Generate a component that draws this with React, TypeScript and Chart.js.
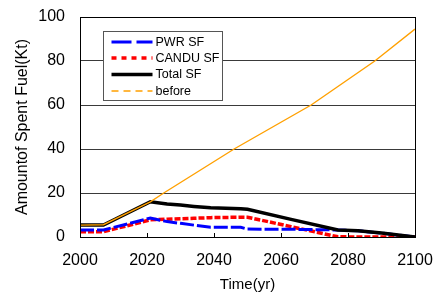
import React, { useEffect, useRef } from "react";
import { Chart, registerables } from "chart.js";

Chart.register(...registerables);

// ---- data ----
const YEARS = [2000, 2007, 2021, 2026, 2030, 2034, 2039, 2048, 2050, 2063, 2077, 2083, 2090, 2100];
const PWR_SF = [3.2, 3.2, 8.6, 7.0, 6.2, 5.4, 4.4, 4.4, 3.6, 3.5, 3.2, 2.8, 1.8, 0];
const CANDU_SF = [2.4, 2.4, 7.8, 8.1, 8.3, 8.5, 8.8, 9.0, 9.0, 4.7, 0.1, 0, 0, 0];
const TOTAL_SF = [5.4, 5.4, 16.0, 15.0, 14.5, 13.9, 13.3, 12.8, 12.6, 8.0, 3.2, 2.8, 1.8, 0];
const BEFORE_YEARS = [2000, 2007, 2021, 2025, 2046, 2069, 2088, 2100];
const BEFORE_SF = [5.4, 5.6, 16.0, 20, 40, 60, 80, 94.5];

const SERIES_LABELS = ["PWR SF", "CANDU SF", "Total SF", "before"];
const X_TITLE = "Time(yr)";
const Y_TITLE = "Amountof Spent Fuel(Kt)";
const X_MIN = 2000;
const X_MAX = 2100;
const X_STEP = 20;
const Y_MIN = 0;
const Y_MAX = 100;
const Y_STEP = 20;

const FONT = "'Liberation Sans', Arial, sans-serif";

const zip = (xs: number[], ys: number[]) => xs.map((x, i) => ({ x, y: ys[i] }));

const LEGEND_ITEMS = [
  { label: SERIES_LABELS[0], color: "#0000ff", width: 3, dash: [20, 5] },
  { label: SERIES_LABELS[1], color: "#ff0000", width: 3.5, dash: [5, 5] },
  { label: SERIES_LABELS[2], color: "#000000", width: 3.5, dash: [] as number[] },
  { label: SERIES_LABELS[3], color: "#ffa000", width: 1.3, dash: [7, 5] },
];

const framePlugin = {
  id: "frameAndLegend",
  afterDatasetsDraw(chart: any) {
    const { ctx, chartArea } = chart;
    const xs = chart.scales.x;
    ctx.save();
    // inner tick marks on x axis
    ctx.strokeStyle = "#000";
    ctx.lineWidth = 1;
    for (let v = X_MIN + X_STEP; v < X_MAX; v += X_STEP) {
      const px = Math.round(xs.getPixelForValue(v)) + 0.5;
      ctx.beginPath();
      ctx.moveTo(px, chartArea.bottom);
      ctx.lineTo(px, chartArea.bottom - 4);
      ctx.stroke();
    }
    // frame
    ctx.strokeStyle = "#000";
    ctx.lineWidth = 1;
    ctx.strokeRect(
      Math.round(chartArea.left) + 0.5,
      Math.round(chartArea.top) + 0.5,
      Math.round(chartArea.right - chartArea.left),
      Math.round(chartArea.bottom - chartArea.top)
    );
    // legend box
    const bx = Math.round(chartArea.left + 23) + 0.5;
    const by = Math.round(chartArea.top + 14) + 0.5;
    const bw = 119;
    const bh = 69;
    ctx.fillStyle = "#fff";
    ctx.fillRect(bx, by, bw, bh);
    ctx.strokeStyle = "#555";
    ctx.lineWidth = 1;
    ctx.strokeRect(bx, by, bw, bh);
    const rowYs = [10.5, 26.5, 43, 59.5];
    ctx.font = `12.5px ${FONT}`;
    ctx.textBaseline = "middle";
    ctx.textAlign = "left";
    LEGEND_ITEMS.forEach((it, i) => {
      const y = by + rowYs[i];
      ctx.beginPath();
      ctx.setLineDash(it.dash);
      ctx.strokeStyle = it.color;
      ctx.lineWidth = it.width;
      ctx.moveTo(bx + 8, y);
      ctx.lineTo(bx + 49, y);
      ctx.stroke();
      ctx.setLineDash([]);
      ctx.fillStyle = "#000";
      ctx.fillText(it.label, bx + 52, y + 0.5);
    });
    ctx.restore();
  },
};

export default function App() {
  const ref = useRef<HTMLCanvasElement | null>(null);
  useEffect(() => {
    document.body.style.margin = "0";
    const canvas = ref.current;
    if (!canvas) return;
    const chart = new Chart(canvas, {
      type: "line",
      data: {
        datasets: [
          {
            label: SERIES_LABELS[3],
            data: zip(BEFORE_YEARS, BEFORE_SF),
            borderColor: "#ffa000",
            borderWidth: 1.4,
            pointRadius: 0,
            tension: 0,
          },
          {
            label: SERIES_LABELS[2],
            data: zip(YEARS, TOTAL_SF),
            borderColor: "#000000",
            borderWidth: 3.5,
            pointRadius: 0,
            tension: 0,
          },
          {
            label: SERIES_LABELS[0],
            data: zip(YEARS, PWR_SF),
            borderColor: "#0000ff",
            borderWidth: 3,
            borderDash: [14, 3],
            pointRadius: 0,
            tension: 0,
          },
          {
            label: SERIES_LABELS[1],
            data: zip(YEARS, CANDU_SF),
            borderColor: "#ff0000",
            borderWidth: 3.5,
            borderDash: [6, 2],
            pointRadius: 0,
            tension: 0,
          },
        ],
      },
      options: {
        responsive: false,
        maintainAspectRatio: false,
        animation: false,
        devicePixelRatio: 1,
        layout: { padding: { top: 17, right: 22, left: 0, bottom: 0 } },
        plugins: { legend: { display: false }, tooltip: { enabled: false } },
        scales: {
          x: {
            type: "linear",
            min: X_MIN,
            max: X_MAX,
            ticks: {
              stepSize: X_STEP,
              color: "#000",
              font: { family: FONT, size: 16 },
              padding: 0,
              maxRotation: 0,
              callback: (v: any) => String(v),
            },
            grid: {
              display: true,
              drawOnChartArea: false,
              drawTicks: true,
              tickLength: 13.5,
              tickColor: "rgba(0,0,0,0)",
            },
            border: { display: true, color: "#000", width: 1 },
            title: {
              display: true,
              text: X_TITLE,
              color: "#000",
              font: { family: FONT, size: 15 },
              padding: { top: 0, bottom: 0 },
            },
            afterFit: (s: any) => {
              s.height = 57;
            },
          },
          y: {
            min: Y_MIN,
            max: Y_MAX,
            ticks: {
              stepSize: Y_STEP,
              color: "#000",
              font: { family: FONT, size: 16 },
              padding: 0,
            },
            grid: {
              color: "#3a3a3a",
              lineWidth: 1,
              drawTicks: true,
              tickLength: 15,
              tickColor: "rgba(0,0,0,0)",
            },
            border: { display: true, color: "#000", width: 1 },
            title: {
              display: true,
              text: Y_TITLE,
              color: "#000",
              font: { family: FONT, size: 16 },
              padding: { top: 13.4, bottom: -7.4 },
            },
            afterFit: (s: any) => {
              s.width = 80;
            },
          },
        },
      },
      plugins: [framePlugin],
    } as any);
    return () => chart.destroy();
  }, []);
  return (
    <div style={{ position: "absolute", left: 0, top: 0, width: 437, height: 294 }}>
      <canvas ref={ref} width={437} height={294} style={{ width: 437, height: 294, display: "block" }} />
    </div>
  );
}
